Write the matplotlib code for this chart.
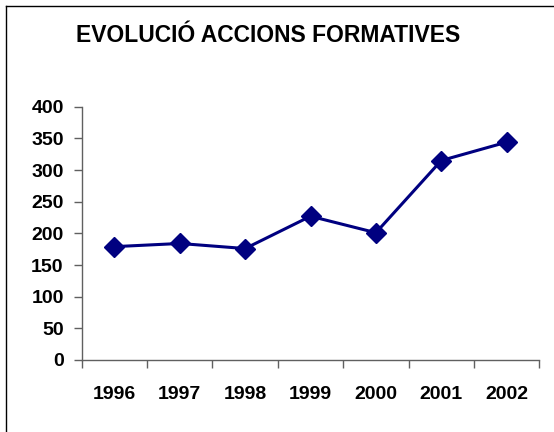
import numpy as np
import matplotlib
matplotlib.use("Agg")
import matplotlib.pyplot as plt
from matplotlib.lines import Line2D

# ==========================================================
# DADES
# ==========================================================

years = ["1996", "1997", "1998", "1999", "2000", "2001", "2002"]
accions = [179, 184, 176, 227, 201, 315, 344]
y_ticks = [0, 50, 100, 150, 200, 250, 300, 350, 400]

plt.rcParams["font.family"] = ["Liberation Sans", "DejaVu Sans"]

# ==========================================================
# FIGURA
# ==========================================================

fig = plt.figure(figsize=(5.54, 4.32), dpi=100)

# marc del gràfic (només es veuen la vora esquerra i la superior)
x0 = 5.5 / 554
y0 = 1 - 5.5 / 432
fig.add_artist(Line2D([x0, x0], [0, y0], transform=fig.transFigure,
                      color="black", linewidth=1.0))
fig.add_artist(Line2D([x0, 1], [y0, y0], transform=fig.transFigure,
                      color="black", linewidth=1.0))

ax = fig.add_axes([0.1475, 0.1667, 0.9735 - 0.1475, 0.753 - 0.1667])

x = np.arange(len(years))
ax.plot(x, accions, color="#000080", linewidth=2.2, marker="D",
        markersize=10, markerfacecolor="#000080", markeredgecolor="#000080")

ax.set_xlim(-0.5, len(years) - 0.5)
ax.set_ylim(0, 400)
ax.set_yticks(y_ticks)
ax.set_yticklabels([str(v) for v in y_ticks], fontsize=14, fontweight="bold")

# marques entre categories, etiquetes al centre
ax.set_xticks(np.arange(len(years) + 1) - 0.5)
ax.set_xticklabels([])
ax.set_xticks(x, minor=True)
ax.set_xticklabels(years, minor=True, fontsize=14, fontweight="bold")
ax.tick_params(axis="x", which="minor", length=0, pad=19)
ax.tick_params(axis="x", which="major", length=6, width=1, color="#606060",
               direction="out")
ax.tick_params(axis="y", length=6, width=1, color="#606060", pad=7)

for side in ["top", "right"]:
    ax.spines[side].set_visible(False)
for side in ["left", "bottom"]:
    ax.spines[side].set_color("#606060")
    ax.spines[side].set_linewidth(1.0)

fig.text(268 / 554, 1 - 36 / 432, "EVOLUCIÓ ACCIONS FORMATIVES",
         ha="center", va="center", fontsize=16.5, fontweight="bold")

fig.savefig("out.png", dpi=100)
